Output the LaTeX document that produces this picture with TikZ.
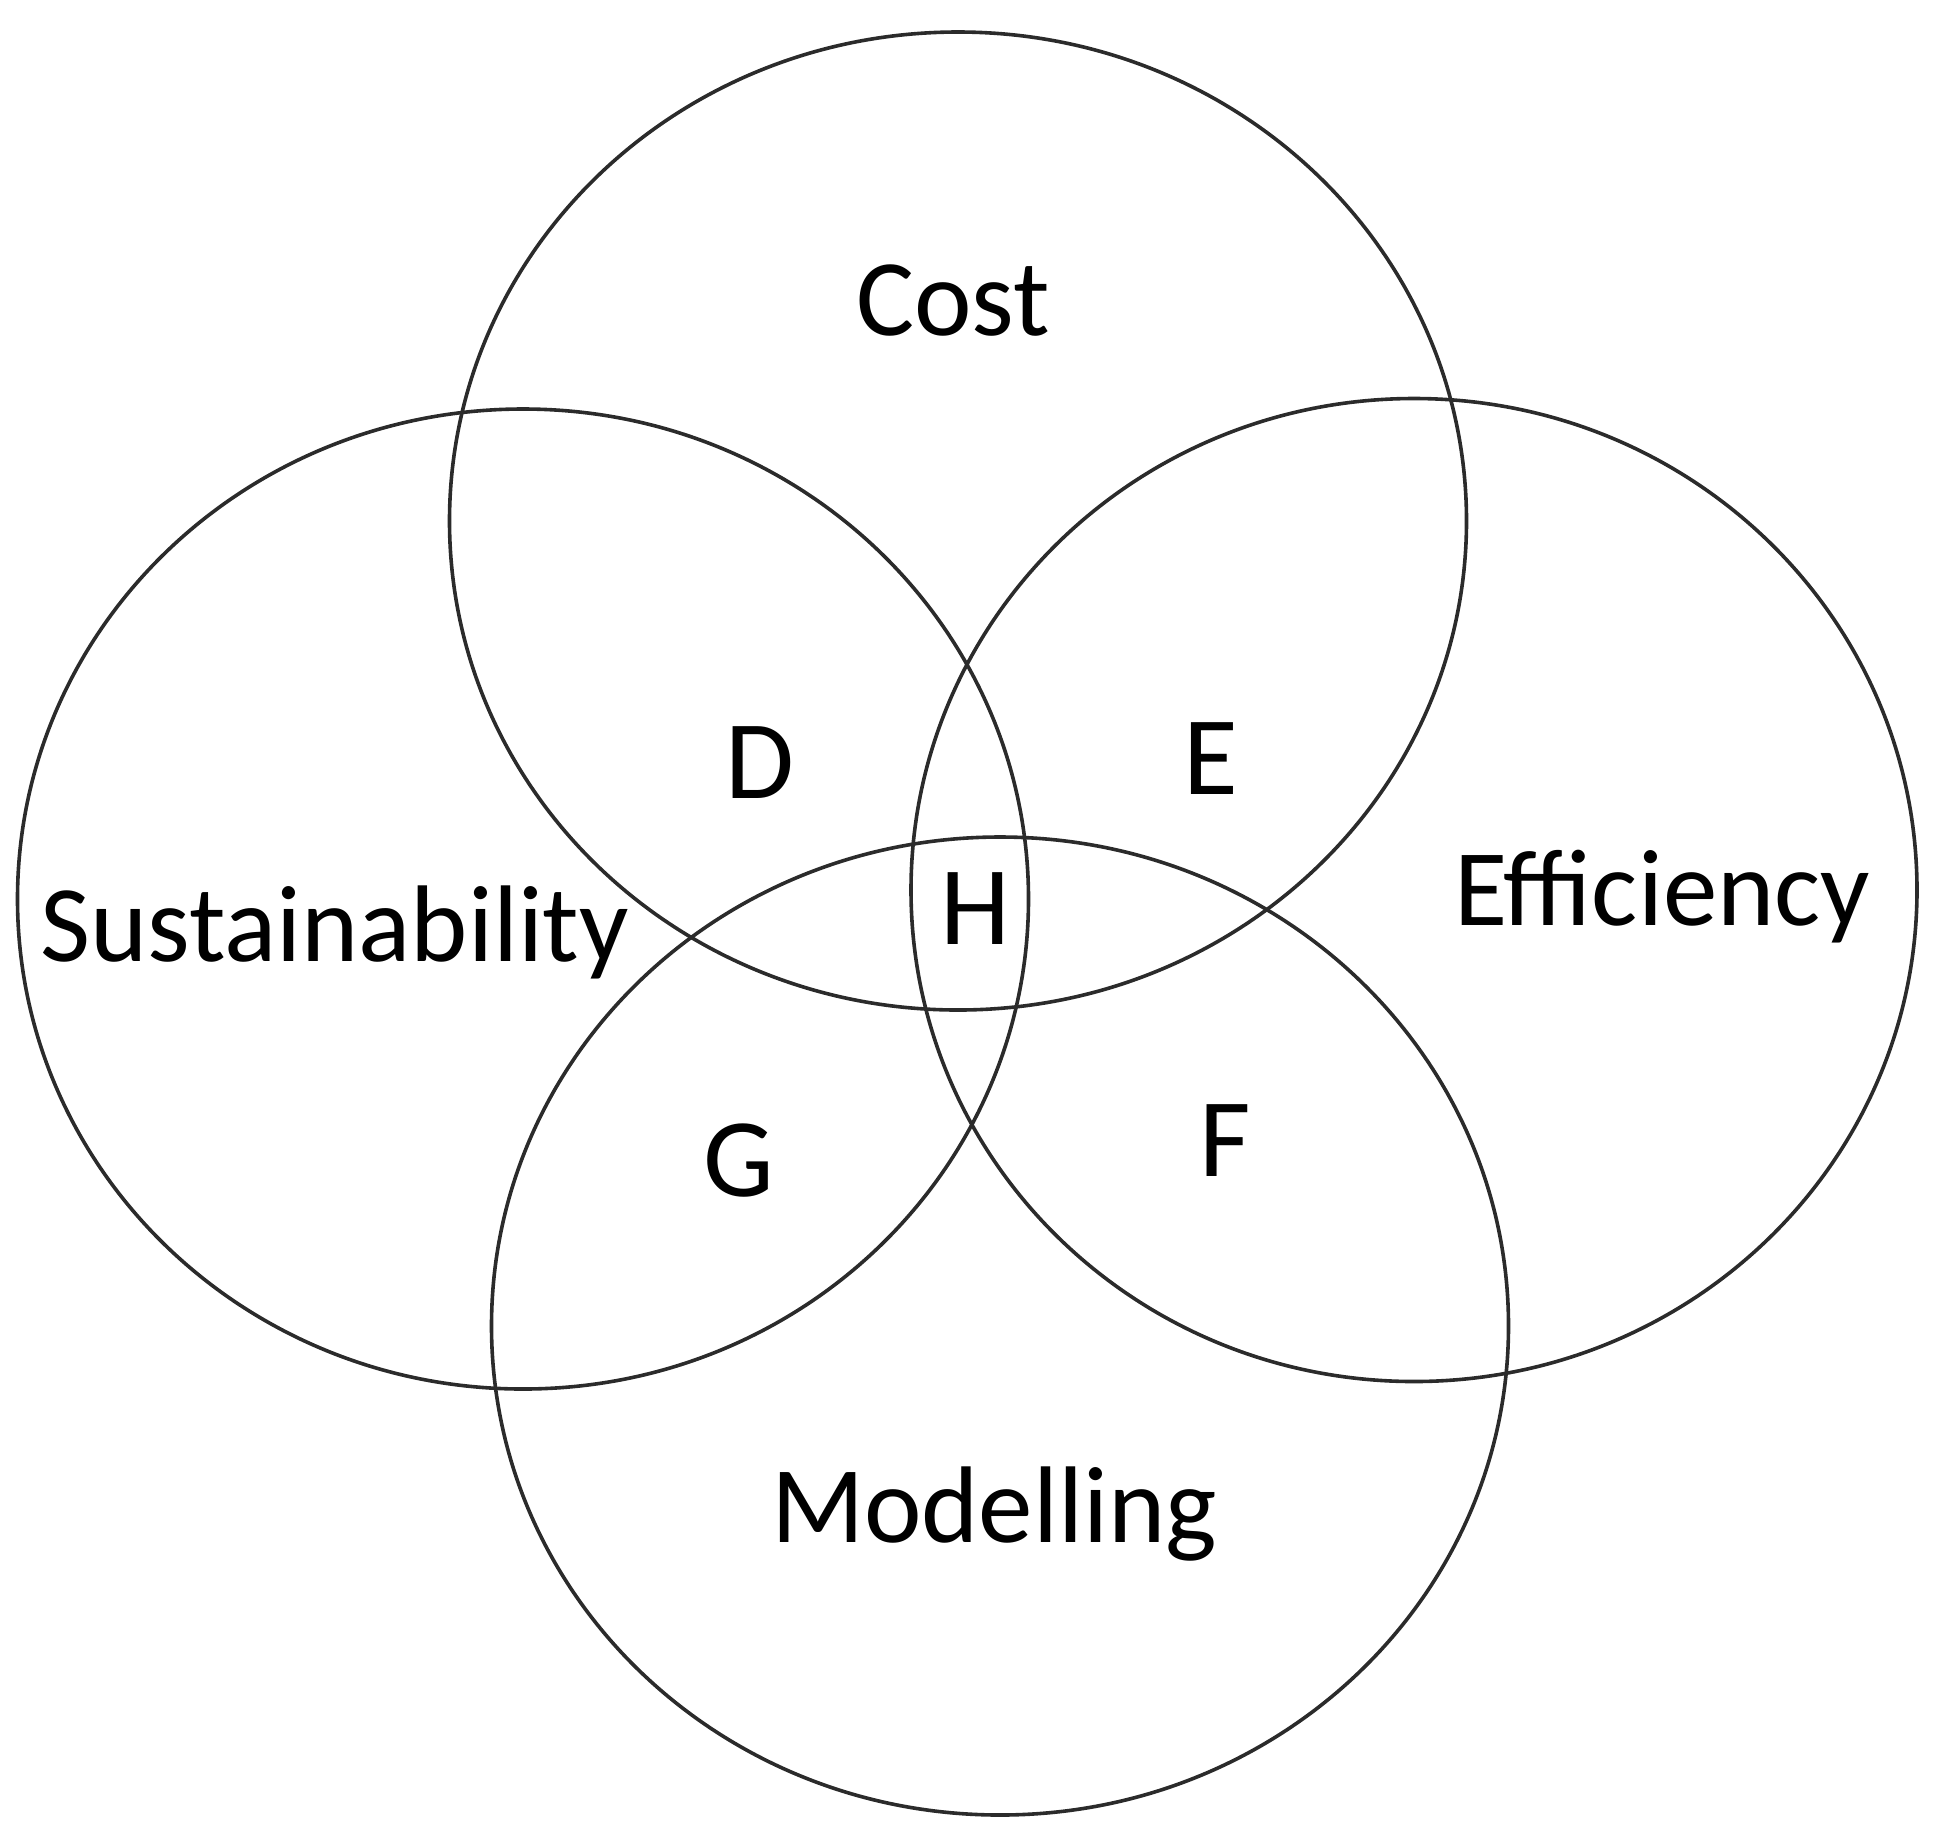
\documentclass[tikz,border=0pt]{standalone}
\usepackage{fontspec}
\setmainfont{Carlito}
\usetikzlibrary{shapes.geometric}
\definecolor{ringgray}{HTML}{2B2B2B}
\begin{document}
\begin{tikzpicture}[x=0.5pt,y=-0.5pt,
  ring/.style={ellipse, draw=ringgray, line width=1.8pt, inner sep=0pt, fill=none},
  lbl/.style={anchor=base, inner sep=0pt, font=\fontsize{54.5pt}{60pt}\selectfont},
  zone/.style={anchor=center, inner sep=0pt, font=\fontsize{56pt}{62pt}\selectfont}]
\useasboundingbox (0,0) rectangle (1944,1844);
\node[ring, minimum width=508.5pt, minimum height=489pt] (cost) at (958,521) {};
\node[ring, minimum width=505.5pt, minimum height=490pt] (sust) at (523,899) {};
\node[ring, minimum width=503pt, minimum height=491.5pt] (eff) at (1414,890) {};
\node[ring, minimum width=508.5pt, minimum height=489pt] (mod) at (1000,1326) {};
\node[lbl] (tcost) at (953,335) {Cost};
\node[lbl, anchor=base west] (tsust) at (40,961) {Sustainability};
\node[lbl] (teff) at (1662,925) {Efficiency};
\node[lbl] (tmod) at (994,1542) {Modelling};
\node[zone] (D) at (760,763) {D};
\node[zone] (E) at (1211,759) {E};
\node[zone] (H) at (975,909) {H};
\node[zone] (G) at (739,1161) {G};
\node[zone] (F) at (1225,1141) {F};
\end{tikzpicture}
\end{document}
